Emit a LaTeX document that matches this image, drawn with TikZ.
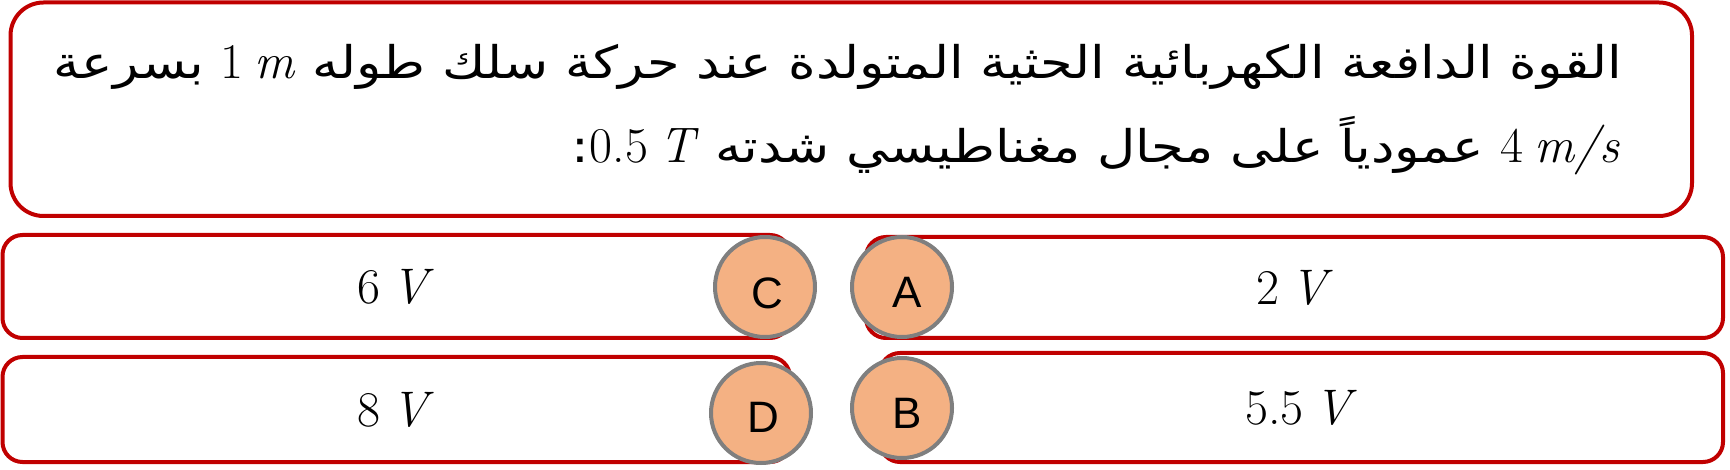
\documentclass[tikz,border=0pt]{standalone}
\usepackage{fontspec}
\newfontfamily\arabicfont[Script=Arabic, FakeStretch=1.17]{DejaVu Sans}
\newfontfamily\labelfont{Liberation Sans}
\newfontfamily\numfont{Latin Modern Roman}
\TeXXeTstate=1
\definecolor{boxred}{HTML}{C00000}
\definecolor{circfill}{HTML}{F4B183}
\definecolor{circgray}{HTML}{7F7F7F}
\newcommand{\mth}[1]{{\numfont\fontsize{50}{60}\selectfont #1}}
\newcommand{\vi}[1]{\textit{#1}}
\newcommand{\mysp}{\hspace{0.22em}}
\begin{document}
\begin{tikzpicture}[x=1pt,y=-1pt]
\useasboundingbox (0,0) rectangle (1730,470);
\tikzset{
  qbox/.style={draw=boxred, line width=4pt, rounded corners=33pt, rectangle, inner sep=0pt},
  optbox/.style={draw=boxred, line width=4pt, rounded corners=20pt, rectangle, inner sep=0pt,
    font=\numfont\fontsize{50}{60}\selectfont},
  optcircle/.style={circle, draw=circgray, fill=circfill, line width=4pt, minimum size=100pt, inner sep=0pt},
  optlabel/.style={font=\labelfont\fontsize{44}{50}\selectfont, inner sep=0pt},
  qline/.style={font=\arabicfont\fontsize{45}{54}\selectfont, inner sep=0pt, anchor=base east}
}
% question box
\node[qbox, minimum width=1681.5pt, minimum height=213.5pt] (qb) at (851.25,109.25) {};
\node[qline] (l1) at (1622,79) {\beginR القوة الدافعة الكهربائية الحثية المتولدة عند حركة سلك طوله \beginL\mth{1\mysp\vi{m}}\endL{} بسرعة\endR};
\node[qline] (l2) at (1620,163) {\beginR\beginL\mth{4\mysp\vi{m/s}}\endL{} عمودياً على مجال مغناطيسي شدته \beginL\mth{0.5\mysp\vi{T}}\endL:\endR};
% option boxes
\node[optbox, minimum width=787.5pt, minimum height=103pt] (bC) at (396.25,286.5) {6\mysp\vi{V}};
\node[optbox, minimum width=787.5pt, minimum height=105pt] (bD) at (396.25,409.5) {8\mysp\vi{V}};
\node[optbox, minimum width=857pt, minimum height=101pt] (bA) at (1294.5,287.5) {2\mysp\vi{V}};
\node[optbox, minimum width=843pt, minimum height=109pt] (bB) at (1301.5,407.5) {5.5\mysp\vi{V}};
% circles
\node[optcircle] (cC) at (765,287) {};
\node[optcircle] (cA) at (902,287) {};
\node[optcircle] (cD) at (761,413) {};
\node[optcircle] (cB) at (902,408) {};
\node[optlabel] (tC) at (767,293) {C};
\node[optlabel] (tA) at (907,292) {A};
\node[optlabel] (tD) at (763,417) {D};
\node[optlabel] (tB) at (907,413) {B};
\end{tikzpicture}
\end{document}
